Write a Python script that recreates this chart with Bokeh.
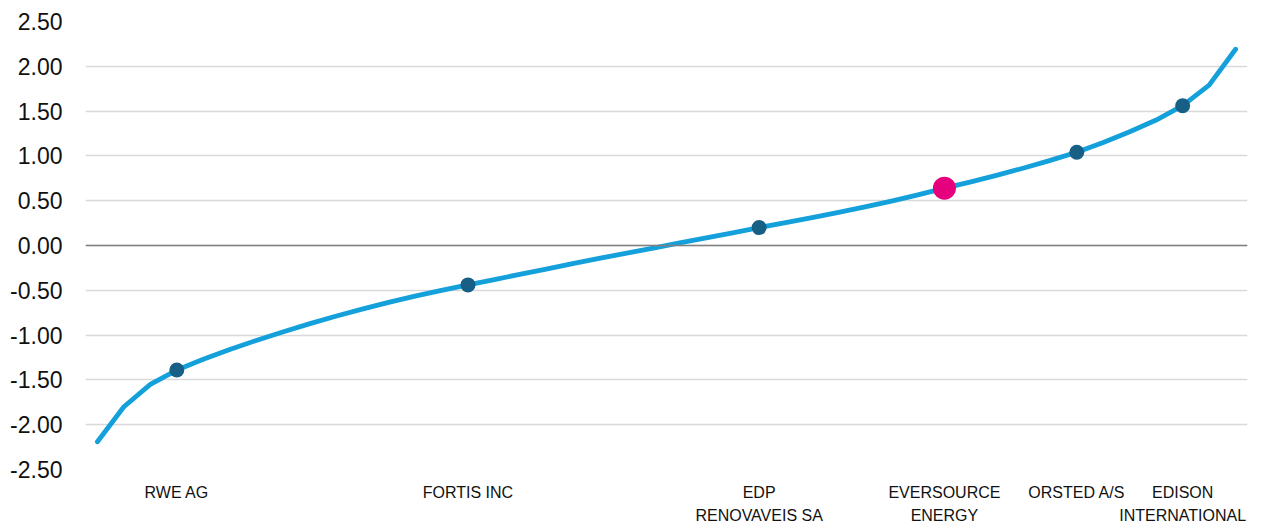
from bokeh.plotting import figure
from bokeh.models import ColumnDataSource, FixedTicker, Span, NumeralTickFormatter, Range1d
from bokeh.embed import file_html
from bokeh.resources import INLINE

# sorted scores for the peer universe (index 0..43)
scores = [-2.19, -1.80, -1.55, -1.39, -1.27, -1.16, -1.06, -0.965, -0.875, -0.79,
          -0.71, -0.635, -0.565, -0.50, -0.44, -0.38, -0.32, -0.26, -0.20, -0.14,
          -0.085, -0.03, 0.03, 0.085, 0.14, 0.20, 0.255, 0.31, 0.37, 0.43,
          0.495, 0.565, 0.64, 0.71, 0.785, 0.865, 0.95, 1.04, 1.15, 1.27,
          1.40, 1.56, 1.79, 2.19]
positions = list(range(len(scores)))

# highlighted peers (index in the sorted list) and their labels
peer_index = [3, 14, 25, 37, 41]
peer_names = ["RWE AG", "FORTIS INC", "EDP\nRENOVAVEIS SA", "ORSTED A/S", "EDISON\nINTERNATIONAL"]
focus_index = [32]
focus_names = ["EVERSOURCE\nENERGY"]

y_ticks = [-2.5, -2.0, -1.5, -1.0, -0.5, 0.0, 0.5, 1.0, 1.5, 2.0, 2.5]

FONT = "Liberation Sans"

p = figure(width=1261, height=528, output_backend="svg", toolbar_location=None,
           x_range=Range1d(-0.45, 43.45), y_range=Range1d(-2.5, 2.5),
           min_border_left=85, min_border_right=14, min_border_top=21, min_border_bottom=59)
p.outline_line_color = None
p.background_fill_color = "white"

line_src = ColumnDataSource(dict(x=positions, y=scores))
p.line("x", "y", source=line_src, line_color="#14A0DA", line_width=4.8, line_cap="round", line_join="round")

peer_src = ColumnDataSource(dict(x=peer_index, y=[scores[i] for i in peer_index]))
p.scatter("x", "y", source=peer_src, size=15, fill_color="#185F86", line_color=None)
focus_src = ColumnDataSource(dict(x=focus_index, y=[scores[i] for i in focus_index]))
p.scatter("x", "y", source=focus_src, size=23, fill_color="#E6007E", line_color=None)

p.add_layout(Span(location=0, dimension="width", line_color="#808080", line_width=1.5))

# y axis
p.yaxis.ticker = FixedTicker(ticks=y_ticks)
p.yaxis.formatter = NumeralTickFormatter(format="0.00")
p.yaxis.axis_line_color = None
p.yaxis.major_tick_line_color = None
p.yaxis.minor_tick_line_color = None
p.yaxis.major_tick_out = 0
p.yaxis.major_tick_in = 0
p.yaxis.major_label_standoff = 23
p.yaxis.major_label_text_font = FONT
p.yaxis.major_label_text_font_size = "23px"
p.yaxis.major_label_text_color = "#111111"

# x axis with peer labels
all_idx = peer_index + focus_index
all_names = peer_names + focus_names
p.xaxis.ticker = FixedTicker(ticks=sorted(all_idx))
p.xaxis.major_label_overrides = {i: n for i, n in zip(all_idx, all_names)}
p.xaxis.axis_line_color = None
p.xaxis.major_tick_line_color = None
p.xaxis.minor_tick_line_color = None
p.xaxis.major_tick_out = 0
p.xaxis.major_tick_in = 0
p.xaxis.major_label_standoff = 14
p.xaxis.major_label_text_font = FONT
p.xaxis.major_label_text_font_size = "16px"
p.xaxis.major_label_text_line_height = 1.4
p.xaxis.major_label_text_color = "#111111"

p.xgrid.grid_line_color = None
p.ygrid.ticker = FixedTicker(ticks=y_ticks)
p.ygrid.grid_line_color = "#D9D9D9"
p.ygrid.grid_line_width = 1.5

open("out.html", "w").write(file_html(p, INLINE))
